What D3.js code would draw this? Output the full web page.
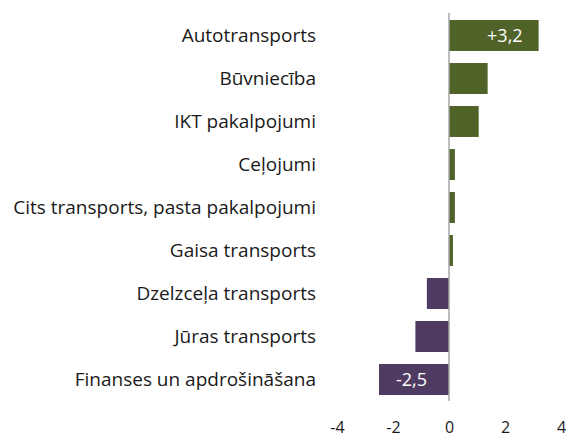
<!DOCTYPE html>
<html>
<head>
<meta charset="utf-8">
<script src="https://cdn.jsdelivr.net/npm/d3@7"></script>
<style>
    body { margin: 0; background: #fff; }
    text { font-family: "Open Sans", Lato, sans-serif; }
</style>
</head>
<body>
<div id="container"></div>
<script>
// categories top to bottom
const categories = [
    "Autotransports",
    "Būvniecība",
    "IKT pakalpojumi",
    "Ceļojumi",
    "Cits transports, pasta pakalpojumi",
    "Gaisa transports",
    "Dzelzceļa transports",
    "Jūras transports",
    "Finanses un apdrošināšana"
];
const values = [3.2, 1.38, 1.06, 0.21, 0.21, 0.14, -0.79, -1.2, -2.5];
// only the two extreme bars get a label
const valueLabels = ["+3,2", "", "", "", "", "", "", "", "-2,5"];
const xTicks = [-4, -2, 0, 2, 4];

const width = 568;
const height = 438;

const data = categories.map((c, i) => ({ name: c, value: values[i], label: valueLabels[i] }));

const x = d3.scaleLinear().domain([-4, 4]).range([337, 561]);
const y = d3.scaleBand().domain(categories).range([14, 401]).paddingInner(0.28).paddingOuter(0.14);

const svg = d3.create("svg")
    .attr("width", width)
    .attr("height", height);

// bars
svg.append("g")
    .selectAll()
    .data(data)
    .join("rect")
    .attr("x", d => x(Math.min(0, d.value)))
    .attr("y", d => y(d.name))
    .attr("width", d => Math.abs(x(d.value) - x(0)))
    .attr("height", y.bandwidth())
    .attr("fill", d => d.value >= 0 ? "#4f6228" : "#4f3b62");

// zero line
svg.append("line")
    .attr("x1", x(0)).attr("x2", x(0))
    .attr("y1", 13).attr("y2", 401)
    .attr("stroke", "#a6a6a6")
    .attr("stroke-width", 1.5);

// category labels
svg.append("g")
    .selectAll()
    .data(data)
    .join("text")
    .attr("x", 316)
    .attr("y", d => y(d.name) + y.bandwidth() / 2)
    .attr("dy", "0.35em")
    .attr("text-anchor", "end")
    .attr("font-size", 19)
    .attr("fill", "#1a1a1a")
    .text(d => d.name);

// value labels inside bar ends
svg.append("g")
    .selectAll()
    .data(data.filter(d => d.label))
    .join("text")
    .attr("x", d => d.value >= 0 ? x(d.value) - 16 : x(d.value) + 17)
    .attr("y", d => y(d.name) + y.bandwidth() / 2)
    .attr("dy", "0.35em")
    .attr("text-anchor", d => d.value >= 0 ? "end" : "start")
    .attr("font-size", 18)
    .attr("fill", "#fff")
    .text(d => d.label);

// x axis, labels only
const xAxis = svg.append("g")
    .attr("transform", "translate(0,419)")
    .call(d3.axisBottom(x).tickValues(xTicks).tickSize(0).tickFormat(d => d));
xAxis.select(".domain").remove();
xAxis.selectAll("text")
    .attr("font-family", "'Open Sans', sans-serif")
    .attr("font-size", 16)
    .attr("fill", "#1a1a1a");

document.getElementById("container").appendChild(svg.node());
</script>
</body>
</html>
